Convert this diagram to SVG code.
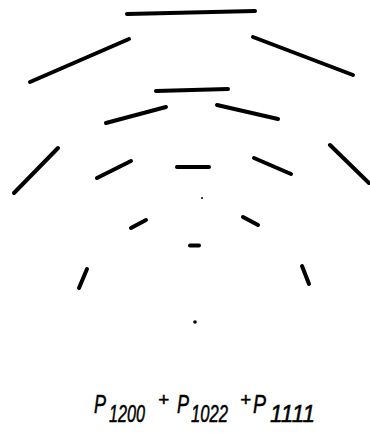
<svg xmlns="http://www.w3.org/2000/svg" width="370" height="433" viewBox="0 0 370 433">
<style>
.s{stroke:#000;stroke-width:4;stroke-linecap:round;fill:none}
.t{font-family:"Liberation Sans",Arial,sans-serif;font-style:italic;fill:#000;stroke:#000;stroke-width:0.5}
.p{font-size:25px}
.b{font-size:23px}
.o{font-size:19px}
</style>
<rect width="370" height="433" fill="#fff"/>
<g id="segments">
<line class="s" x1="127" y1="14" x2="255" y2="11"/>
<line class="s" x1="30" y1="82" x2="129" y2="39"/>
<line class="s" x1="253" y1="37" x2="353" y2="75"/>
<line class="s" x1="156" y1="91" x2="228" y2="89"/>
<line class="s" x1="106" y1="123" x2="166" y2="107"/>
<line class="s" x1="217" y1="105" x2="278" y2="119"/>
<line class="s" x1="14" y1="193" x2="58" y2="148"/>
<line class="s" x1="97" y1="178" x2="131" y2="161"/>
<line class="s" x1="177" y1="167" x2="209" y2="167"/>
<line class="s" x1="254" y1="158" x2="291" y2="174"/>
<line class="s" x1="330" y1="145" x2="369" y2="183"/>
<circle cx="202" cy="198" r="1" fill="#000"/>
<line class="s" x1="131" y1="228" x2="146" y2="220"/>
<line class="s" x1="243" y1="217" x2="258" y2="225"/>
<line class="s" x1="190" y1="245.5" x2="199" y2="245.5"/>
<line class="s" x1="79" y1="288" x2="87" y2="269"/>
<line class="s" x1="302" y1="266" x2="309" y2="284"/>
<circle cx="195" cy="322" r="1.8" fill="#000"/>
</g>
<g id="formula" class="t">
<text x="94" y="413"><tspan class="p" textLength="12" lengthAdjust="spacingAndGlyphs">P</tspan><tspan class="b" x="109" y="422" textLength="36" lengthAdjust="spacingAndGlyphs">1200</tspan><tspan class="o" x="158" y="406" textLength="11" lengthAdjust="spacingAndGlyphs">+</tspan></text>
<text x="177" y="413"><tspan class="p" textLength="12" lengthAdjust="spacingAndGlyphs">P</tspan><tspan class="b" x="191" y="422" textLength="37" lengthAdjust="spacingAndGlyphs">1022</tspan><tspan class="o" x="240" y="406" textLength="11" lengthAdjust="spacingAndGlyphs">+</tspan></text>
<text x="253" y="413"><tspan class="p" textLength="13" lengthAdjust="spacingAndGlyphs">P</tspan><tspan class="b" x="270" y="422" textLength="45" lengthAdjust="spacingAndGlyphs">1111</tspan></text>
</g>
</svg>
